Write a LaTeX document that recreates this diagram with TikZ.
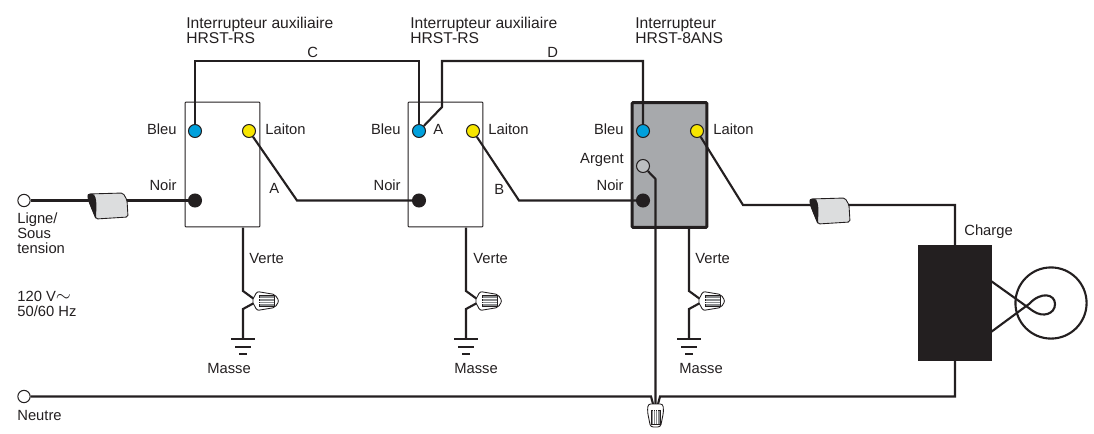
\documentclass[tikz,border=0pt]{standalone}
\usepackage{fontspec}
\setmainfont{Liberation Sans}
\definecolor{ink}{HTML}{231F20}
\definecolor{bluepin}{HTML}{00A0DC}
\definecolor{yellowpin}{HTML}{F7E600}
\definecolor{silverpin}{HTML}{BCBEC0}
\definecolor{bodygrey}{HTML}{A7A9AC}
\definecolor{clipgrey}{HTML}{DCDDDE}
\definecolor{ribgrey}{HTML}{8A8C8E}
\begin{document}
\begin{tikzpicture}[x=0.02cm,y=0.02cm]
\tikzstyle{every node}+=[inner sep=0pt,text=ink,font=\fontsize{8.4}{8.5}\selectfont]
\tikzstyle{wire}=[draw=ink,line width=1.2pt,line join=miter]
\tikzstyle{pin}=[circle,draw=ink,line width=0.6pt,minimum size=7.4pt]
\tikzstyle{swbox}=[draw=ink,line width=0.5pt,minimum width=42.6pt,minimum height=71pt,rounded corners=0.4pt]
\tikzstyle{mainbox}=[draw=ink,line width=1.7pt,fill=bodygrey,minimum width=42.6pt,minimum height=71pt,rounded corners=0.6pt]
\tikzstyle{open}=[circle,draw=ink,line width=0.6pt,fill=white,minimum size=7pt]
\tikzstyle{lbl}=[anchor=base west,align=left]
\tikzstyle{lblr}=[anchor=base east]
\tikzstyle{head}=[lbl,font=\fontsize{8.9}{8.5}\selectfont]
\tikzset{
  clipnut/.pic={
    \fill [clipgrey,draw=ink,line width=0.5pt,rounded corners=1pt] (0,0) -- (35,1) -- (39,-6) -- (40,-23) -- (8,-25) -- (0,-5) -- cycle;
    \fill [ink] (0,0) .. controls (-1,-6) and (4,-16) .. (8,-25) .. controls (8,-16) and (10,-3) .. (5,0) -- cycle;
  },
  wirenut/.pic={
    \fill [white,draw=ink,line width=0.5pt,rounded corners=1.2pt] (0,0) -- (5,9.5) -- (23,6.5) -- (27,0) -- (23,-6.5) -- (5,-9.5) -- cycle;
    \fill [ribgrey,draw=ink,line width=0.3pt] (7,-5.5) rectangle (22,5.5);
    \draw [white,line width=0.35pt] (7,-2.8) -- (22,-2.8) (7,0) -- (22,0) (7,2.8) -- (22,2.8);
  },
  capnut/.pic={
    \fill [white,draw=ink,line width=0.5pt,rounded corners=1.5pt] (-7.5,0) -- (7.5,0) -- (8,-8) -- (5,-23) -- (-5,-23) -- (-8,-8) -- cycle;
    \fill [ribgrey,draw=ink,line width=0.3pt] (-4.5,-6) rectangle (4.5,-20);
    \draw [white,line width=0.35pt] (-2.2,-6) -- (-2.2,-20) (0,-6) -- (0,-20) (2.2,-6) -- (2.2,-20);
  },
  earth/.pic={
    \draw [wire] (-12,0) -- (12,0);
    \draw [wire] (-8,-8) -- (8,-8);
    \draw [wire] (-4,-15) -- (4,-15);
  }
}
\useasboundingbox (0,0) rectangle (1094,-433);

\node [swbox] (sw1) at (222.5,-164.5) {};
\node [swbox] (sw2) at (445.5,-164.5) {};
\node [mainbox] (sw3) at (669.5,-165) {};
\node [pin,fill=bluepin] (blue1) at (195,-131) {};
\node [pin,fill=yellowpin] (brass1) at (249,-131) {};
\node [pin,fill=ink] (black1) at (195,-200.5) {};
\node [pin,fill=bluepin] (blue2) at (419,-131) {};
\node [pin,fill=yellowpin] (brass2) at (473,-131) {};
\node [pin,fill=ink] (black2) at (419,-200.5) {};
\node [pin,fill=bluepin] (blue3) at (643,-131) {};
\node [pin,fill=yellowpin] (brass3) at (697,-131) {};
\node [pin,fill=silverpin] (silver3) at (643,-166) {};
\node [pin,fill=ink] (black3) at (643,-200.5) {};
\node [open] (line) at (24,-200.5) {};
\node [open] (neutral) at (24,-396.5) {};
\node [draw=ink,fill=ink,minimum width=41.5pt,minimum height=65.4pt] (load) at (954.5,-302.5) {};
\node [circle,draw=ink,line width=1.2pt,minimum size=40.5pt] (lamp) at (1051,-303) {};

\coordinate (c1) at (195,-61);
\coordinate (c2) at (419,-61);
\coordinate (d1) at (643,-61);
\coordinate (d2) at (442,-61);
\coordinate (d3) at (442,-107);
\coordinate (a1) at (297,-200.5);
\coordinate (b1) at (519,-200.5);
\coordinate (e1) at (743,-205);
\coordinate (e2) at (955,-205);
\coordinate (f1) at (955,-396.5);
\coordinate (g1) at (660,-396.5);
\coordinate (g2) at (658,-404);
\coordinate (h1) at (651,-396.5);
\coordinate (h2) at (653,-404);
\coordinate (s1) at (655.5,-179);
\coordinate (s2) at (655.5,-404);
\coordinate (loadtop) at (955,-245);
\coordinate (loadbot) at (955,-360);
\coordinate (lampa) at (991,-281);
\coordinate (lampb) at (991,-332);

\draw [wire] (line) -- (black1);
\draw [wire] (blue1) -- (c1) -- (c2) -- (blue2);
\draw [wire] (blue3) -- (d1) -- (d2) -- (d3) -- (blue2);
\draw [wire] (brass1) -- (a1) -- (black2);
\draw [wire] (brass2) -- (b1) -- (black3);
\draw [wire] (brass3) -- (e1) -- (e2) -- (loadtop);
\draw [wire] (loadbot) -- (f1) -- (g1) -- (g2);
\draw [wire] (neutral) -- (h1) -- (h2);
\draw [wire] (silver3) -- (s1) -- (s2);
\draw [wire] (lampa) -- (1033,-311) .. controls (1043,-318) and (1055,-314) .. (1055,-304) .. controls (1055,-294) and (1041,-291) .. (1029,-304) -- (lampb);

\coordinate (v1) at (243,-227.5);
\coordinate (v2) at (243,-291);
\coordinate (v3) at (254,-299);
\coordinate (v4) at (254,-303);
\coordinate (v5) at (243,-309);
\coordinate (v6) at (243,-339);
\draw [wire] (v1) -- (v2) -- (v3) (v4) -- (v5) -- (v6);
\coordinate (w1) at (466,-227.5);
\coordinate (w2) at (466,-291);
\coordinate (w3) at (477,-299);
\coordinate (w4) at (477,-303);
\coordinate (w5) at (466,-309);
\coordinate (w6) at (466,-339);
\draw [wire] (w1) -- (w2) -- (w3) (w4) -- (w5) -- (w6);
\coordinate (x1) at (689,-228);
\coordinate (x2) at (689,-291);
\coordinate (x3) at (700,-299);
\coordinate (x4) at (700,-303);
\coordinate (x5) at (689,-309);
\coordinate (x6) at (689,-339);
\draw [wire] (x1) -- (x2) -- (x3) (x4) -- (x5) -- (x6);

\pic at (88,-194) {clipnut};
\pic at (810,-199) {clipnut};
\pic at (252,-301) {wirenut};
\pic at (475,-301) {wirenut};
\pic at (698,-301) {wirenut};
\pic at (655.5,-404) {capnut};
\pic at (243,-339) {earth};
\pic at (466,-339) {earth};
\pic at (689,-339) {earth};

\node [head] at (186,-43) {Interrupteur auxiliaire\\HRST-RS};
\node [head] at (410,-43) {Interrupteur auxiliaire\\HRST-RS};
\node [head] at (635,-43) {Interrupteur\\HRST-8ANS};
\node [lbl] at (307,-57) {C};
\node [lbl] at (547,-57) {D};
\node [lbl] at (269,-193) {A};
\node [lbl] at (433,-134) {A};
\node [lbl] at (494,-194) {B};
\node [lblr] at (177,-134) {Bleu};
\node [lblr] at (177,-190) {Noir};
\node [lbl] at (265,-134) {Laiton};
\node [lblr] at (401,-134) {Bleu};
\node [lblr] at (401,-190) {Noir};
\node [lbl] at (488,-134) {Laiton};
\node [lblr] at (624,-134) {Bleu};
\node [lblr] at (624,-163) {Argent};
\node [lblr] at (624,-190) {Noir};
\node [lbl] at (713,-134) {Laiton};
\node [lbl] at (249,-263) {Verte};
\node [lbl] at (473,-263) {Verte};
\node [lbl] at (695,-263) {Verte};
\node [lbl] at (207,-373) {Masse};
\node [lbl] at (454,-373) {Masse};
\node [lbl] at (679,-373) {Masse};
\node [lbl] at (17,-253) {Ligne/\\Sous\\tension};
\node [lbl] at (17,-316) {120 V{\fontsize{11}{8.5}\selectfont$\sim$}\\50/60 Hz};
\node [lbl] at (17,-420) {Neutre};
\node [lbl] at (964,-235) {Charge};
\end{tikzpicture}
\end{document}
